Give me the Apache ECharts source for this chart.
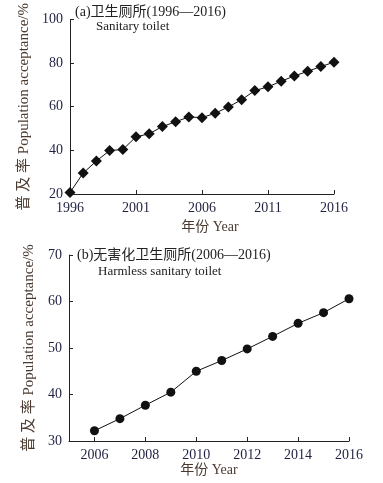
<!DOCTYPE html>
<html><head><meta charset="utf-8">
<script src="https://cdn.jsdelivr.net/npm/echarts@6/dist/echarts.min.js"></script>
<style>html,body{margin:0;padding:0;background:#fff}#c{width:383px;height:483px}</style>
</head><body><div id="c"></div>
<script>
const yearsA = [1996,1997,1998,1999,2000,2001,2002,2003,2004,2005,2006,2007,2008,2009,2010,2011,2012,2013,2014,2015,2016];
const valuesA = [20.7,29.6,35.1,39.9,40.4,46.2,47.6,50.9,53.1,55.3,55.0,57.0,59.9,63.2,67.4,69.1,71.7,74.1,76.2,78.4,80.4];
const yearsB = [2006,2007,2008,2009,2010,2011,2012,2013,2014,2015,2016];
const valuesB = [32.2,34.8,37.7,40.5,45.0,47.3,49.8,52.5,55.3,57.6,60.6];
const xTicksB = [2006,2008,2010,2012,2014,2016];
const titleA = '(a)卫生厕所(1996—2016)';
const subA = 'Sanitary toilet';
const titleB = '(b)无害化卫生厕所(2006—2016)';
const subB = 'Harmless sanitary toilet';
const yName = '普 及 率 Population acceptance/%';
const xName = '年份 Year';

const FF = '"Liberation Serif","Noto Sans CJK SC",serif';
const tickColor = '#1f2140';
const nameColor = '#4a3a30';
const fmt = v => String(v);
const axisCommon = {
  axisLine: {show: true, lineStyle: {color: '#222', width: 1}},
  axisTick: {show: true, inside: true, length: 4, lineStyle: {color: '#222'}},
  splitLine: {show: false},
  axisLabel: {color: tickColor, fontFamily: FF, fontSize: 14, margin: 7, formatter: fmt},
  nameTextStyle: {color: nameColor, fontFamily: FF, fontSize: 14}
};
const chart = echarts.init(document.getElementById('c'), null, {renderer: 'canvas'});
chart.setOption({
  animation: false,
  backgroundColor: '#fff',
  title: [
    {text: titleA, left: 70, top: 0, textStyle: {fontFamily: FF, fontSize: 14, fontWeight: 'normal', color: '#222'}},
    {text: subA, left: 91, top: 15, textStyle: {fontFamily: FF, fontSize: 13, fontWeight: 'normal', color: '#222'}},
    {text: titleB, left: 72, top: 243, textStyle: {fontFamily: FF, fontSize: 14, fontWeight: 'normal', color: '#222'}},
    {text: subB, left: 93, top: 260, textStyle: {fontFamily: FF, fontSize: 13, fontWeight: 'normal', color: '#222'}}
  ],
  grid: [
    {left: 70, top: 11, width: 264, height: 183, containLabel: false},
    {left: 69, top: 255, width: 280, height: 186, containLabel: false}
  ],
  xAxis: [
    Object.assign({}, axisCommon, {gridIndex: 0, type: 'value', min: 1996, max: 2016, interval: 5,
      name: xName, nameLocation: 'middle', nameGap: 26,
      nameTextStyle: Object.assign({}, axisCommon.nameTextStyle, {padding: [0, 0, 0, 16]})}),
    Object.assign({}, axisCommon, {gridIndex: 1, type: 'value', min: 2005, max: 2016,
      name: xName, nameLocation: 'middle', nameGap: 22,
      axisTick: Object.assign({}, axisCommon.axisTick, {customValues: xTicksB}),
      axisLabel: Object.assign({}, axisCommon.axisLabel, {customValues: xTicksB})})
  ],
  yAxis: [
    Object.assign({}, axisCommon, {gridIndex: 0, type: 'value', min: 20, max: 100, interval: 20,
      name: yName, nameLocation: 'middle', nameGap: 32,
      nameTextStyle: Object.assign({}, axisCommon.nameTextStyle, {fontSize: 15})}),
    Object.assign({}, axisCommon, {gridIndex: 1, type: 'value', min: 30, max: 70, interval: 10,
      name: yName, nameLocation: 'middle', nameGap: 32,
      nameTextStyle: Object.assign({}, axisCommon.nameTextStyle, {fontSize: 15})})
  ],
  series: [
    {type: 'line', xAxisIndex: 0, yAxisIndex: 0, data: yearsA.map((y, i) => [y, valuesA[i]]),
      symbol: 'diamond', symbolSize: 11, lineStyle: {color: '#111', width: 1}, itemStyle: {color: '#111'}},
    {type: 'line', xAxisIndex: 1, yAxisIndex: 1, data: yearsB.map((y, i) => [y, valuesB[i]]),
      symbol: 'circle', symbolSize: 9, lineStyle: {color: '#111', width: 1}, itemStyle: {color: '#111'}}
  ]
});
</script></body></html>
